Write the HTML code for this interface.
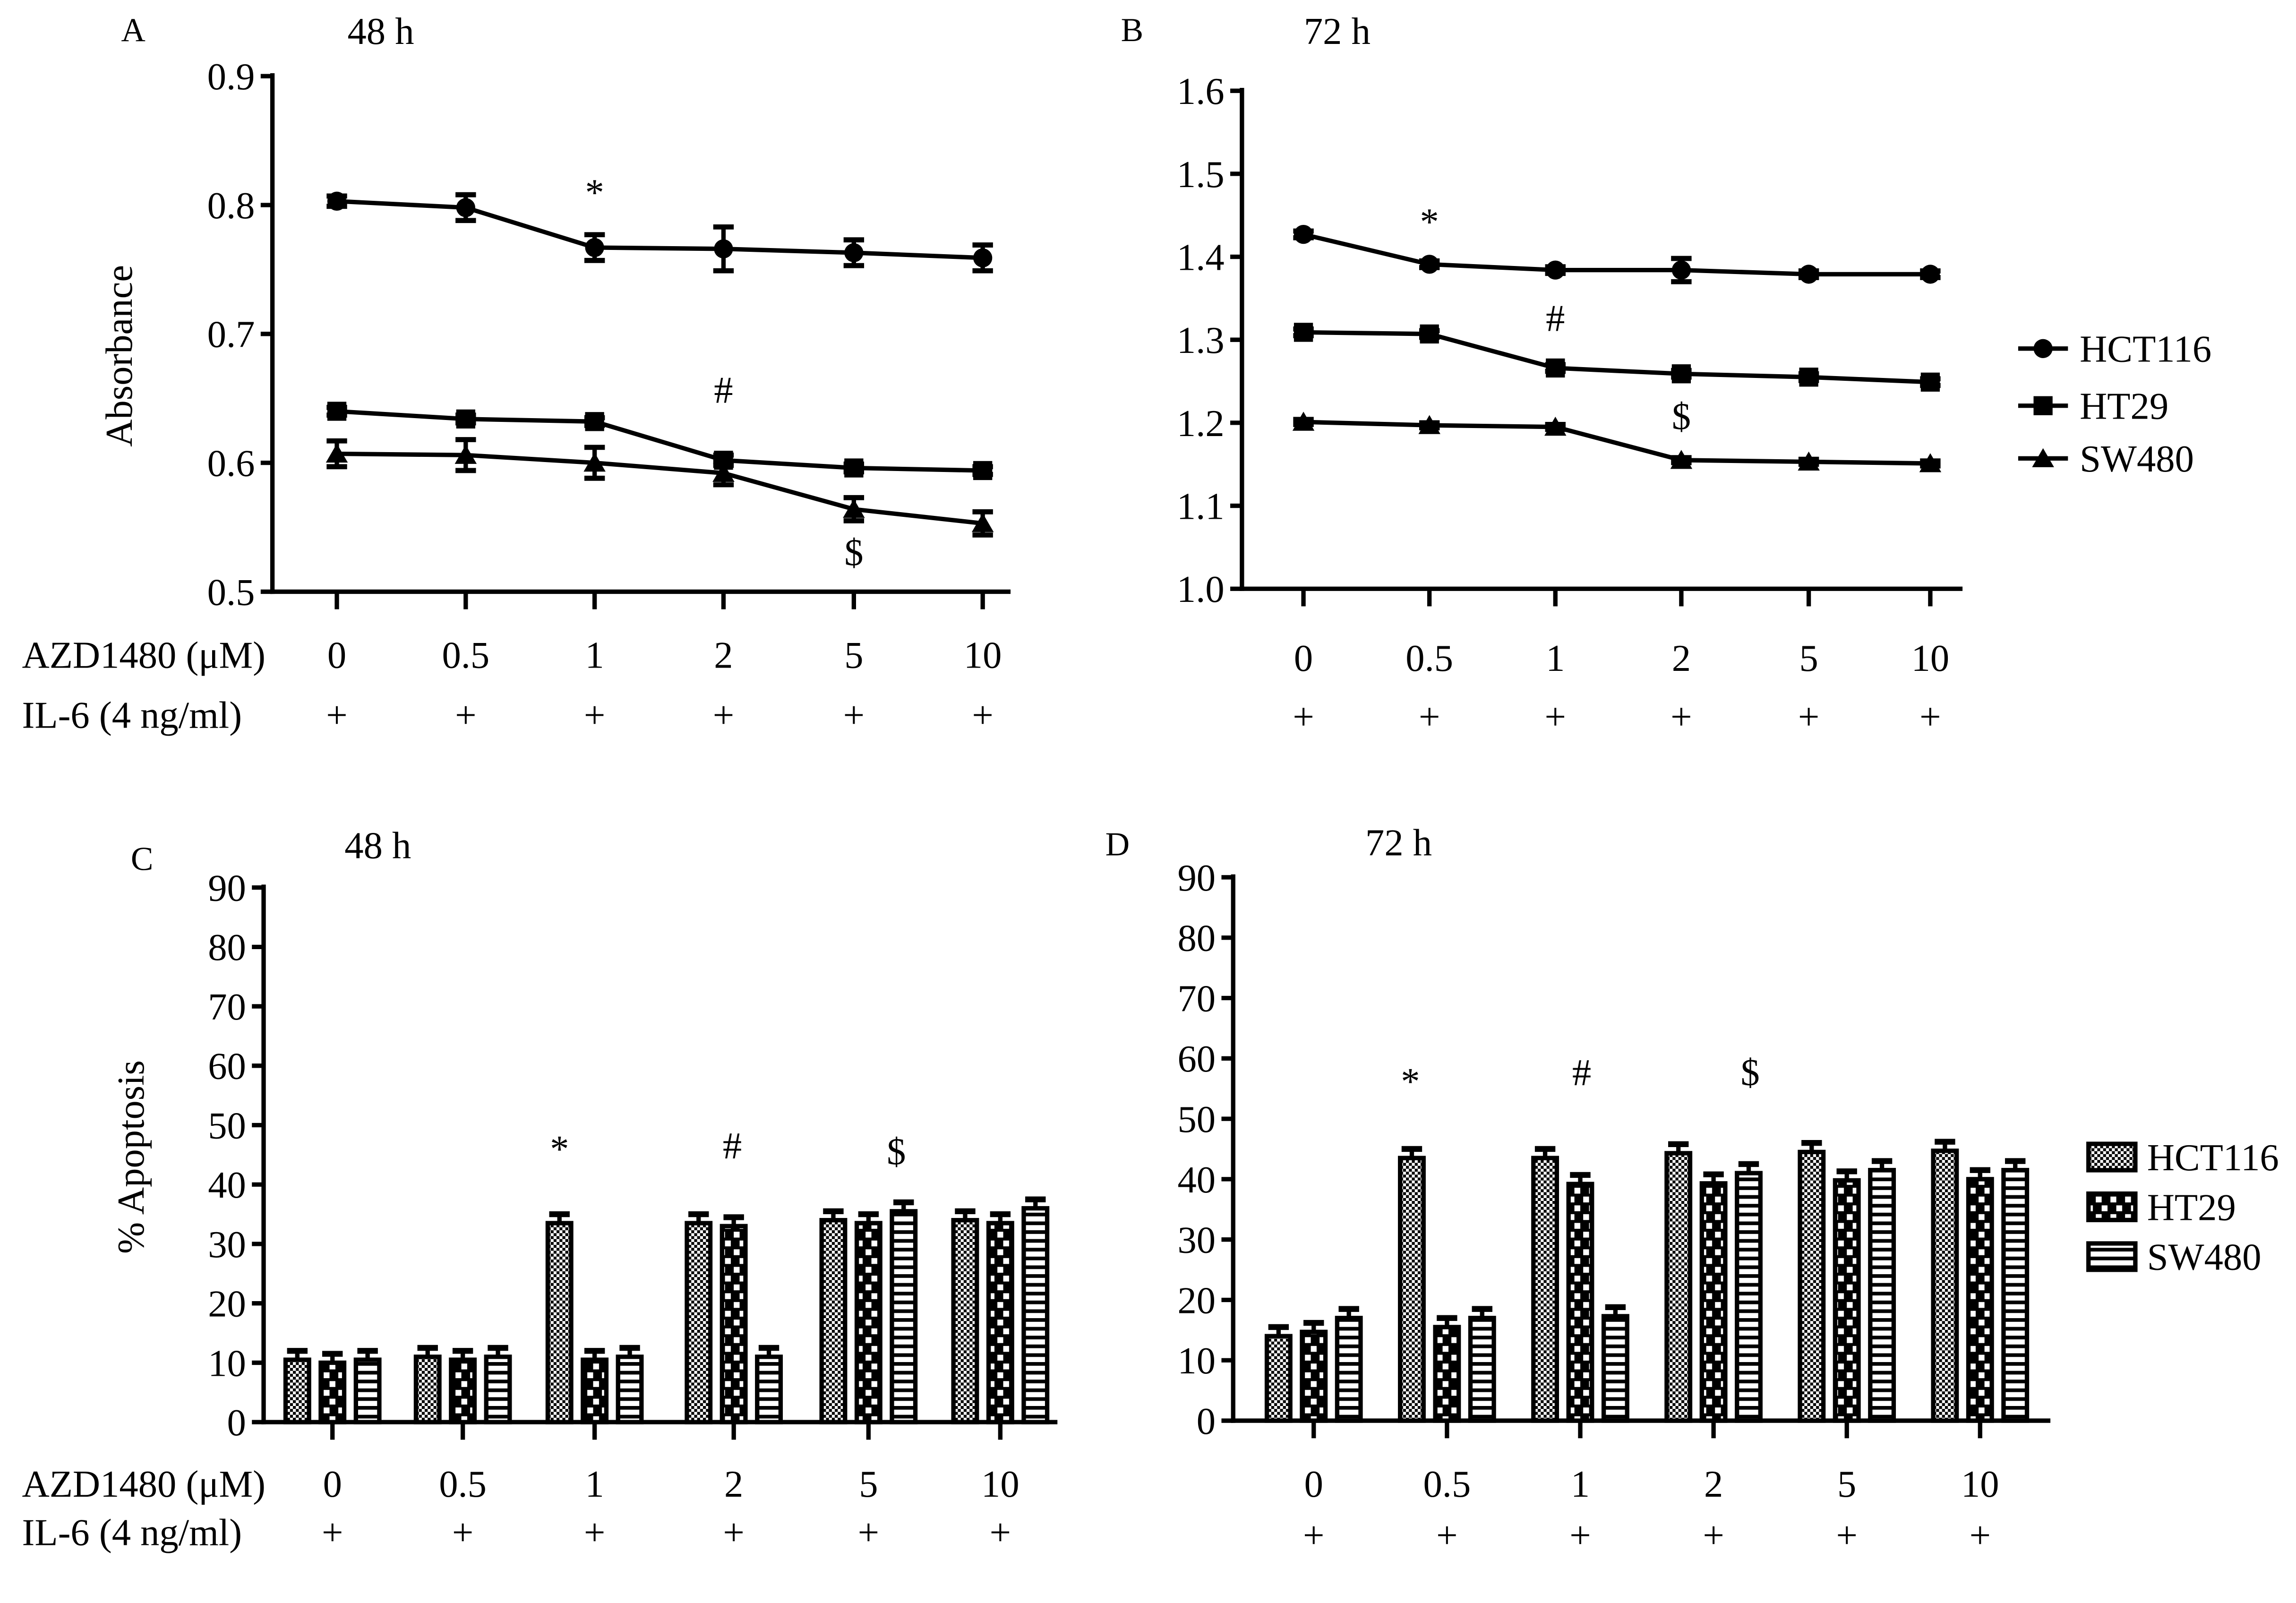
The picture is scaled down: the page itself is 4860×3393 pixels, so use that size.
<!DOCTYPE html>
<html><head><meta charset="utf-8"><style>html,body{margin:0;padding:0;background:#fff}svg{display:block}text{font-family:"Liberation Serif",serif;fill:#000}</style></head>
<body>
<svg id="fig" xmlns="http://www.w3.org/2000/svg" width="4860" height="3393" viewBox="0 0 1567.7 1094.5" preserveAspectRatio="none">
<defs>
<pattern id="pFine" width="4" height="4" patternUnits="userSpaceOnUse"><rect width="4" height="4" fill="#fff"/><rect width="2" height="2" fill="#000"/><rect x="2" y="2" width="2" height="2" fill="#000"/></pattern>
<pattern id="pCoarse" width="10" height="12" patternUnits="userSpaceOnUse"><rect width="10" height="12" fill="#000"/><rect x="1" y="1" width="4" height="4" fill="#fff"/><rect x="5" y="7" width="4" height="4" fill="#fff"/></pattern>
<pattern id="pStripe" width="6" height="6" patternUnits="userSpaceOnUse"><rect width="6" height="6" fill="#fff"/><rect width="6" height="2.5" fill="#000"/></pattern>
</defs>
</svg>
<script>
const lineX = ["0","0.5","1","2","5","10"];
// Panel A (48 h absorbance)
const aHCT = [0.803,0.798,0.767,0.766,0.763,0.759];
const aHCTe = [0.004,0.010,0.010,0.017,0.010,0.010];
const aHT = [0.640,0.634,0.632,0.602,0.596,0.594];
const aHTe = [0.003,0.003,0.003,0.004,0.003,0.003];
const aSW = [0.607,0.606,0.600,0.592,0.564,0.553];
const aSWe = [0.010,0.012,0.012,0.009,0.009,0.009];
const aTicks = [0.5,0.6,0.7,0.8,0.9];
// Panel B (72 h absorbance)
const bHCT = [1.427,1.391,1.384,1.384,1.379,1.379];
const bHCTe = [0.004,0.004,0.004,0.014,0.004,0.004];
const bHT = [1.309,1.307,1.266,1.259,1.255,1.249];
const bHTe = [0.004,0.004,0.004,0.004,0.004,0.004];
const bSW = [1.201,1.197,1.195,1.155,1.153,1.151];
const bSWe = [0.003,0.003,0.003,0.003,0.003,0.003];
const bTicks = [1.0,1.1,1.2,1.3,1.4,1.5,1.6];
// Panel C (48 h apoptosis)
const cHCT = [10.5,11,33.5,33.5,34,34];
const cHT = [10,10.5,10.5,33,33.5,33.5];
const cSW = [10.5,11,11,11,35.5,36];
// Panel D (72 h apoptosis)
const dHCT = [14,43.5,43.5,44.3,44.5,44.7];
const dHT = [14.7,15.5,39.2,39.3,39.8,40];
const dSW = [17,17,17.3,41,41.5,41.5];
const barErr = 1.5;
const barTicks = [0,10,20,30,40,50,60,70,80,90];

const FS=26;
const NS="http://www.w3.org/2000/svg", svg=document.getElementById('fig');
function el(tag, attrs, parent){const e=document.createElementNS(NS,tag);for(const k in attrs)e.setAttribute(k,attrs[k]);(parent||svg).appendChild(e);return e;}
function txt(x,y,s,size,anchor,parent){const t=el('text',{x:x,y:y,'font-size':size,'text-anchor':anchor||'middle'},parent);t.textContent=s;return t;}
function grp(name){const g=el('g',{});return g;}

function axes(g,ax0,ax1,y0,y1,vmin,vmax,ticks,fmt,tickXs,lblY,plusY,showRowLabels){
  const Y=v=>y0-(v-vmin)/(vmax-vmin)*(y0-y1);
  el('line',{x1:ax0,y1:y1-2,x2:ax0,y2:y0+1.5,stroke:'#000','stroke-width':3},g);
  el('line',{x1:ax0-1.5,y1:y0,x2:ax1,y2:y0,stroke:'#000','stroke-width':3},g);
  ticks.forEach(v=>{el('line',{x1:ax0-8,y1:Y(v),x2:ax0,y2:Y(v),stroke:'#000','stroke-width':3},g);
    const t=txt(ax0-12,Y(v)+9,fmt(v),FS,'end',g);});
  tickXs.forEach((x,i)=>{el('line',{x1:x,y1:y0,x2:x,y2:y0+12,stroke:'#000','stroke-width':3},g);
    const t=txt(x,lblY,lineX[i],FS,'middle',g);
    const p=txt(x,plusY,'+',FS,'middle',g);});
  if(showRowLabels){const a=txt(15,lblY,'AZD1480 (μM)',FS,'start',g);
    const b=txt(15,plusY,'IL-6 (4 ng/ml)',FS,'start',g);}
  return Y;
}
function marker(g,type,x,y){
  if(type==='c')el('circle',{cx:x,cy:y,r:6.5,fill:'#000'},g);
  else if(type==='s')el('rect',{x:x-6.5,y:y-6.5,width:13,height:13,fill:'#000'},g);
  else el('polygon',{points:`${x},${y-7} ${x-7.5},${y+6} ${x+7.5},${y+6}`,fill:'#000'},g);
}
function series(g,name,type,xs,vals,errs,Y){
  const sg=el('g',{},g);
  el('polyline',{points:vals.map((v,i)=>xs[i]+','+Y(v)).join(' '),fill:'none',stroke:'#000','stroke-width':3},sg);
  vals.forEach((v,i)=>{const x=xs[i],yt=Y(v+errs[i]),yb=Y(v-errs[i]);
    el('line',{x1:x,y1:yt,x2:x,y2:yb,stroke:'#000','stroke-width':3},sg);
    el('line',{x1:x-7,y1:yt,x2:x+7,y2:yt,stroke:'#000','stroke-width':3.5},sg);
    el('line',{x1:x-7,y1:yb,x2:x+7,y2:yb,stroke:'#000','stroke-width':3.5},sg);
    marker(sg,type,x,Y(v));});
}
function annot(g,x,y,s,size){const t=txt(x,y,s,size||FS,'middle',g);}
function header(letter,lx,ly,title,tx,ty){const a=txt(lx,ly,letter,23,'middle');
  const b=txt(tx,ty,title,FS,'middle');}

// Panel A
{const g=grp('panel-a-chart');const xs=[230,318,406,494,583,671];
 const Y=axes(g,186,690,404,52,0.5,0.9,aTicks,v=>v.toFixed(1),xs,456,497,true);
 series(g,'series-hct116','c',xs,aHCT,aHCTe,Y);series(g,'series-ht29','s',xs,aHT,aHTe,Y);series(g,'series-sw480','t',xs,aSW,aSWe,Y);
 annot(g,406,140,'*');annot(g,494,275,'#');annot(g,583,386,'$');
 const t=txt(90,243,'Absorbance',FS,'middle',g);t.setAttribute('transform','rotate(-90 90 243)');
 header('A',91,28,'48 h',260,30);}
// Panel B
{const g=grp('panel-b-chart');const xs=[890,976,1062,1148,1235,1318];
 const Y=axes(g,848,1340,402,62,1.0,1.6,bTicks,v=>v.toFixed(1),xs,458,498,false);
 series(g,'series-hct116','c',xs,bHCT,bHCTe,Y);series(g,'series-ht29','s',xs,bHT,bHTe,Y);series(g,'series-sw480','t',xs,bSW,bSWe,Y);
 annot(g,976,160,'*');annot(g,1062,226,'#');annot(g,1148,293,'$');
 header('B',773,28,'72 h',913,30);
 const names=['HCT116','HT29','SW480'],types=['c','s','t'],ly=[238,277,313];
 names.forEach((n,i)=>{const lg=el('g',{},g);
   el('line',{x1:1378,y1:ly[i],x2:1412,y2:ly[i],stroke:'#000','stroke-width':3},lg);marker(lg,types[i],1395,ly[i]);txt(1420,ly[i]+9,n,FS,'start',lg);});}
// Bar panels
function barPanel(name,ax0,ax1,y0,y1,centers,data,lblY,plusY,rowLabels){
  const g=grp(name);const Y=axes(g,ax0,ax1,y0,y1,0,90,barTicks,v=>String(v),centers,lblY,plusY,rowLabels);
  const fills=['url(#pFine)','url(#pCoarse)','url(#pStripe)'],sn=['hct116','ht29','sw480'];
  const bw=16,gap=24;
  data.forEach((arr,s)=>arr.forEach((v,i)=>{const x=centers[i]+(s-1)*gap;
    const bg=el('g',{},g);
    const ye=Y(v+barErr);
    el('line',{x1:x,y1:ye,x2:x,y2:Y(v),stroke:'#000','stroke-width':3},bg);
    el('line',{x1:x-7,y1:ye,x2:x+7,y2:ye,stroke:'#000','stroke-width':4},bg);
    el('rect',{x:x-bw/2,y:Y(v),width:bw,height:y0-Y(v),fill:fills[s],stroke:'#000','stroke-width':3},bg);}));
  return g;
}
{const g=barPanel('panel-c-chart',180,722,971,606,[227,316,406,501,593,683],[cHCT,cHT,cSW],1022,1055,true);
 annot(g,382,793,'*');annot(g,500,791,'#');annot(g,612,795,'$');
 const t=txt(98,790,'% Apoptosis',FS,'middle',g);t.setAttribute('transform','rotate(-90 98 790)');
 header('C',97,594,'48 h',258,586);}
{const g=barPanel('panel-d-chart',842,1400,970,599,[897,988,1079,1170,1261,1352],[dHCT,dHT,dSW],1022,1057,false);
 annot(g,963,747,'*');annot(g,1080,741,'#');annot(g,1195,741,'$');
 header('D',763,584,'72 h',955,584);
 const names=['HCT116','HT29','SW480'],fills=['url(#pFine)','url(#pCoarse)','url(#pStripe)'],ly=[790,824,858];
 names.forEach((n,i)=>{const lg=el('g',{},g);
   el('rect',{x:1426,y:ly[i]-9,width:32,height:18,fill:fills[i],stroke:'#000','stroke-width':3},lg);txt(1466,ly[i]+9,n,FS,'start',lg);});}
</script>
</body></html>
